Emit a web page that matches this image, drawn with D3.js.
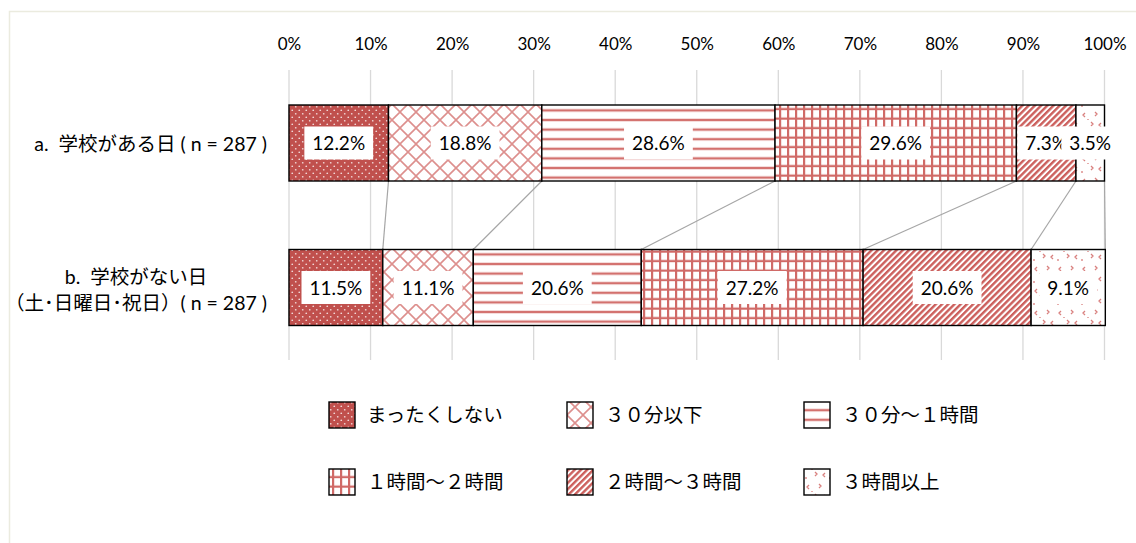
<!DOCTYPE html>
<html>
<head>
<meta charset="utf-8">
<script src="https://cdn.jsdelivr.net/npm/d3@7"></script>
<style>
  body { margin: 0; background: #fff; }
  svg { display: block; }
  text { white-space: pre; }
</style>
</head>
<body>
<div id="chart"></div>
<script>
// data
var categories = ["a", "b"];
var categoryLines = [
    ["a.  学校がある日 ( n = 287 )"],
    ["b.  学校がない日", "（土･日曜日･祝日）( n = 287 )"]
];
var seriesNames = ["まったくしない", "３０分以下", "３０分～１時間", "１時間～２時間", "２時間～３時間", "３時間以上"];
var valuesA = [12.2, 18.8, 28.6, 29.6, 7.3, 3.5];
var valuesB = [11.5, 11.1, 20.6, 27.2, 20.6, 9.1];
var tickValues = [0, 10, 20, 30, 40, 50, 60, 70, 80, 90, 100];

var width = 1136,
    height = 543;
var red = "#c0504d";
var latin = "Lato, 'Noto Sans CJK JP', sans-serif";
var jp = "'Noto Sans CJK JP', sans-serif";

var svg = d3.select("#chart").append("svg")
    .attr("width", width)
    .attr("height", height);

// chart area border
svg.append("rect")
    .attr("x", 9.5).attr("y", 11.5)
    .attr("width", 1300).attr("height", 700)
    .attr("fill", "none")
    .attr("stroke", "#ebebdf")
    .attr("stroke-width", 1.5);

// patterns
var defs = svg.append("defs");

var p0 = defs.append("pattern").attr("id", "pat0").attr("patternUnits", "userSpaceOnUse")
    .attr("width", 7).attr("height", 7);
p0.append("rect").attr("width", 7).attr("height", 7).attr("fill", red);
p0.append("circle").attr("cx", 1.75).attr("cy", 1.75).attr("r", 0.85).attr("fill", "#f3dcdb");
p0.append("circle").attr("cx", 5.25).attr("cy", 5.25).attr("r", 0.85).attr("fill", "#f3dcdb");

var p1 = defs.append("pattern").attr("id", "pat1").attr("patternUnits", "userSpaceOnUse")
    .attr("width", 16).attr("height", 16);
p1.append("rect").attr("width", 16).attr("height", 16).attr("fill", "#fff");
p1.append("path").attr("d", "M0,0L16,16M16,0L0,16M-2,14L2,18M14,-2L18,2M-2,2L2,-2M14,18L18,14")
    .attr("stroke", "#dd8f8d").attr("stroke-width", 1.6);

var p2 = defs.append("pattern").attr("id", "pat2").attr("patternUnits", "userSpaceOnUse")
    .attr("width", 10).attr("height", 9.6);
p2.append("rect").attr("width", 10).attr("height", 9.6).attr("fill", "#fff");
p2.append("rect").attr("y", 3.6).attr("width", 10).attr("height", 2.4).attr("fill", "#d3716e");

var p3 = defs.append("pattern").attr("id", "pat3").attr("patternUnits", "userSpaceOnUse")
    .attr("width", 8).attr("height", 9.5);
p3.append("rect").attr("width", 8).attr("height", 9.5).attr("fill", "#fff");
p3.append("rect").attr("y", 3.5).attr("width", 8).attr("height", 2.2).attr("fill", "#d06a67");
p3.append("rect").attr("x", 3).attr("width", 2.2).attr("height", 9.5).attr("fill", "#d06a67");

var p4 = defs.append("pattern").attr("id", "pat4").attr("patternUnits", "userSpaceOnUse")
    .attr("width", 4.4).attr("height", 10).attr("patternTransform", "rotate(45)");
p4.append("rect").attr("width", 4.4).attr("height", 10).attr("fill", "#fff");
p4.append("rect").attr("width", 2.4).attr("height", 10).attr("fill", "#cc5f5c");

var p5 = defs.append("pattern").attr("id", "pat5").attr("patternUnits", "userSpaceOnUse")
    .attr("width", 24).attr("height", 22);
p5.append("rect").attr("width", 24).attr("height", 22).attr("fill", "#fff");
p5.append("path")
    .attr("d", "M5,3L3,5L5,7 M15,2L17,4L15,6 M11,12L13,14L11,16 M21,13L19,15L21,17 M2,17L2,19 M8,9L8,10")
    .attr("fill", "none").attr("stroke", "#d9807e").attr("stroke-width", 1.3);

var patterns = ["url(#pat0)", "url(#pat1)", "url(#pat2)", "url(#pat3)", "url(#pat4)", "url(#pat5)"];

// scales
var x = d3.scaleLinear().domain([0, 100]).range([289, 1104.5]);
var y = d3.scalePoint().domain(categories).range([143, 287.5]);
var barH = 76;

// gridlines
svg.append("g").selectAll("line")
    .data(tickValues)
    .enter().append("line")
    .attr("x1", function(d) { return x(d); })
    .attr("x2", function(d) { return x(d); })
    .attr("y1", 70).attr("y2", 360)
    .attr("stroke", "#d9d9d9")
    .attr("stroke-width", 1.3);

// axis
var axis = svg.append("g")
    .attr("transform", "translate(0,50)")
    .call(d3.axisTop(x).tickValues(tickValues).tickSize(0).tickPadding(0)
        .tickFormat(function(d) { return d + "%"; }));
axis.select(".domain").remove();
axis.selectAll("text")
    .attr("font-family", latin)
    .attr("font-size", 17)
    .attr("fill", "#000");

// stacking
function stackRow(vals) {
    var acc = 0;
    return vals.map(function(v, i) {
        var s = { i: i, v: v, x0: acc, x1: acc + v };
        acc += v;
        return s;
    });
}
var rows = [stackRow(valuesA), stackRow(valuesB)];

// series lines between bars
var topY = y("a") + barH / 2,
    botY = y("b") - barH / 2;
svg.append("g").selectAll("line")
    .data(rows[0])
    .enter().append("line")
    .attr("x1", function(d) { return x(d.x1); })
    .attr("y1", topY)
    .attr("x2", function(d, i) { return x(rows[1][i].x1); })
    .attr("y2", botY)
    .attr("stroke", "#a6a6a6")
    .attr("stroke-width", 1.2);

// bars
rows.forEach(function(row, r) {
    var cy = y(categories[r]);
    var g = svg.append("g");
    g.selectAll("rect")
        .data(row)
        .enter().append("rect")
        .attr("x", function(d) { return x(d.x0); })
        .attr("y", cy - barH / 2)
        .attr("width", function(d) { return x(d.x1) - x(d.x0); })
        .attr("height", barH)
        .attr("fill", function(d) { return patterns[d.i]; })
        .attr("stroke", "#000")
        .attr("stroke-width", 1.4);

    // labels
    row.forEach(function(d) {
        var cx = (x(d.x0) + x(d.x1)) / 2;
        var lg = svg.append("g");
        var box = lg.append("rect").attr("fill", "#fff");
        var t = lg.append("text")
            .attr("x", cx)
            .attr("y", cy + 7)
            .attr("text-anchor", "middle")
            .attr("font-family", latin)
            .attr("font-size", 19)
            .attr("fill", "#000")
            .text(d.v.toFixed(1) + "%");
        var w = t.node().getComputedTextLength();
        box.attr("x", cx - w / 2 - 8)
            .attr("y", cy - 16.5)
            .attr("width", w + 16)
            .attr("height", 33);
    });
});

// category labels
var labelRight = 267;
svg.append("text")
    .attr("x", labelRight).attr("y", y("a") + 8)
    .attr("text-anchor", "end")
    .attr("font-family", latin).attr("font-size", 19.5)
    .text(categoryLines[0][0]);
var lb2 = svg.append("text")
    .attr("x", labelRight).attr("y", y("b") + 22)
    .attr("text-anchor", "end")
    .attr("font-family", latin).attr("font-size", 19.5)
    .text(categoryLines[1][1]);
var w2 = lb2.node().getComputedTextLength();
svg.append("text")
    .attr("x", labelRight - w2 / 2).attr("y", y("b") - 4)
    .attr("text-anchor", "middle")
    .attr("font-family", latin).attr("font-size", 19.5)
    .text(categoryLines[1][0]);

// legend
var legX = [329, 567, 804],
    legY = [415, 482],
    sw = 26;
var leg = svg.append("g").selectAll("g")
    .data(seriesNames)
    .enter().append("g")
    .attr("transform", function(d, i) {
        return "translate(" + legX[i % 3] + "," + legY[Math.floor(i / 3)] + ")";
    });
leg.append("rect")
    .attr("x", 0).attr("y", -sw / 2)
    .attr("width", sw).attr("height", sw)
    .attr("fill", function(d, i) { return patterns[i]; })
    .attr("stroke", "#000")
    .attr("stroke-width", 1.4);
leg.append("text")
    .attr("x", 38).attr("y", 7)
    .attr("font-family", jp)
    .attr("font-size", 19.5)
    .attr("fill", "#000")
    .text(function(d) { return d; });
</script>
</body>
</html>
